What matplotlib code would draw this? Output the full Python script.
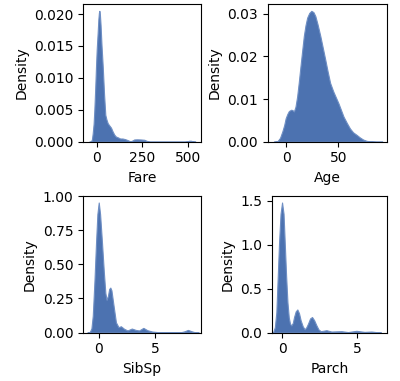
import numpy as np
import matplotlib
matplotlib.use("Agg")
import matplotlib.pyplot as plt

# Density curves
fare_x = [-40, -31, -26, -22, -17, -13, -8, -4, 0, 5, 9, 12, 14.5, 17, 21, 26, 33, 40, 47, 53, 60, 70, 78, 87, 96, 105, 114, 128, 141, 155, 168, 180, 187, 196, 205, 220, 240, 260, 268, 280, 290, 480, 495, 505, 515, 525, 540]
fare_y = [0, 0, 0.0004, 0.0013, 0.0028, 0.005, 0.0085, 0.0117, 0.0145, 0.017, 0.0192, 0.0202, 0.0205, 0.0201, 0.0183, 0.0152, 0.0117, 0.0075, 0.0042, 0.0035, 0.0029, 0.0025, 0.0022, 0.0016, 0.0011, 0.0008, 0.0007, 0.0005, 0.0005, 0.0004, 0.00026, 0.0001, 0.00008, 0.0002, 0.00035, 0.00037, 0.00035, 0.0003, 0.0002, 0.00005, 0, 0, 0.00005, 0.00015, 0.00015, 0.00005, 0]

age_x = [-12, -8.5, -6, -3.8, -2, -0.6, 1, 2.5, 4.7, 6, 7.3, 8.8, 10.4, 12, 13.6, 15.2, 16.8, 18.4, 20, 22, 24, 26, 27.8, 30, 32.6, 35, 37.3, 39.6, 42, 45, 50, 54.8, 58, 61, 64, 67.4, 70.5, 73.7, 77, 80, 86, 92]
age_y = [0, 0.0001, 0.0009, 0.0024, 0.0039, 0.0055, 0.0065, 0.0072, 0.0075, 0.0074, 0.0071, 0.0082, 0.0106, 0.0140, 0.0177, 0.0213, 0.0248, 0.0273, 0.0291, 0.0302, 0.0307, 0.0304, 0.0295, 0.0275, 0.0248, 0.0220, 0.0193, 0.0165, 0.0138, 0.0118, 0.0090, 0.0059, 0.0044, 0.0031, 0.0022, 0.0016, 0.0010, 0.0005, 0.0002, 0.0001, 0, 0]

sib_x = [-1.0, -0.82, -0.65, -0.53, -0.38, -0.24, -0.12, 0, 0.12, 0.29, 0.45, 0.59, 0.7, 0.82, 0.93, 1.03, 1.13, 1.32, 1.53, 1.76, 1.97, 2.26, 2.56, 2.94, 3.29, 3.59, 3.97, 4.32, 4.76, 5.35, 6.5, 7.3, 7.6, 7.94, 8.3, 8.6, 8.9]
sib_y = [0, 0, 0.03, 0.124, 0.38, 0.66, 0.87, 0.955, 0.87, 0.66, 0.45, 0.29, 0.24, 0.27, 0.32, 0.33, 0.31, 0.197, 0.075, 0.039, 0.046, 0.027, 0.015, 0.029, 0.019, 0.015, 0.034, 0.017, 0.007, 0.002, 0.002, 0.002, 0.008, 0.019, 0.008, 0.001, 0]

parch_x = [-0.8, -0.6, -0.48, -0.38, -0.2, -0.1, 0, 0.1, 0.18, 0.27, 0.36, 0.45, 0.53, 0.62, 0.72, 0.8, 0.91, 1.02, 1.13, 1.24, 1.38, 1.51, 1.62, 1.73, 1.87, 2.0, 2.14, 2.29, 2.43, 2.58, 2.96, 3.29, 3.96, 4.4, 4.96, 5.5, 5.96, 6.3, 6.6]
parch_y = [0, 0, 0.06, 0.23, 1.02, 1.35, 1.478, 1.35, 1.02, 0.65, 0.345, 0.17, 0.10, 0.08, 0.11, 0.176, 0.24, 0.262, 0.22, 0.139, 0.07, 0.037, 0.06, 0.10, 0.16, 0.176, 0.14, 0.082, 0.035, 0.015, 0.026, 0.011, 0.015, 0.005, 0.019, 0.007, 0.011, 0.004, 0]

labels = ["Fare", "Age", "SibSp", "Parch"]
curves = [(fare_x, fare_y), (age_x, age_y), (sib_x, sib_y), (parch_x, parch_y)]
xlims = [(-75, 570), (-18, 96.5), (-1.4, 9.1), (-0.69, 7.0)]
xticks = [[0, 250, 500], [0, 50], [0, 5], [0, 5]]
yticks = [[0, 0.005, 0.010, 0.015, 0.020], [0, 0.01, 0.02, 0.03],
          [0, 0.25, 0.5, 0.75, 1.0], [0, 0.5, 1.0, 1.5]]
yfmt = ["{:.3f}", "{:.2f}", "{:.2f}", "{:.1f}"]

W, H = 400, 381
fig = plt.figure(figsize=(W / 100, H / 100), dpi=100)
boxes = [(83, 4.3, 201, 141.7), (267.5, 4.3, 387, 141.7),
         (83, 196, 201, 332.5), (271.7, 196, 387, 332.5)]
color = "#4c72b0"
for i, (lab, (xs, ys)) in enumerate(zip(labels, curves)):
    x0, y0, x1, y1 = boxes[i]
    ax = fig.add_axes([x0 / W, 1 - y1 / H, (x1 - x0) / W, (y1 - y0) / H])
    ax.fill_between(xs, ys, 0, color=color, alpha=1.0, linewidth=0.8,
                    edgecolor="#6f8fc4")
    ax.set_xlim(*xlims[i])
    ax.set_ylim(0, max(ys) * 1.05)
    ax.set_xticks(xticks[i])
    ax.set_yticks(yticks[i])
    ax.set_yticklabels([yfmt[i].format(v) for v in yticks[i]])
    ax.set_xlabel(lab)
    ax.set_ylabel("Density")

fig.savefig("out.png", dpi=100)
